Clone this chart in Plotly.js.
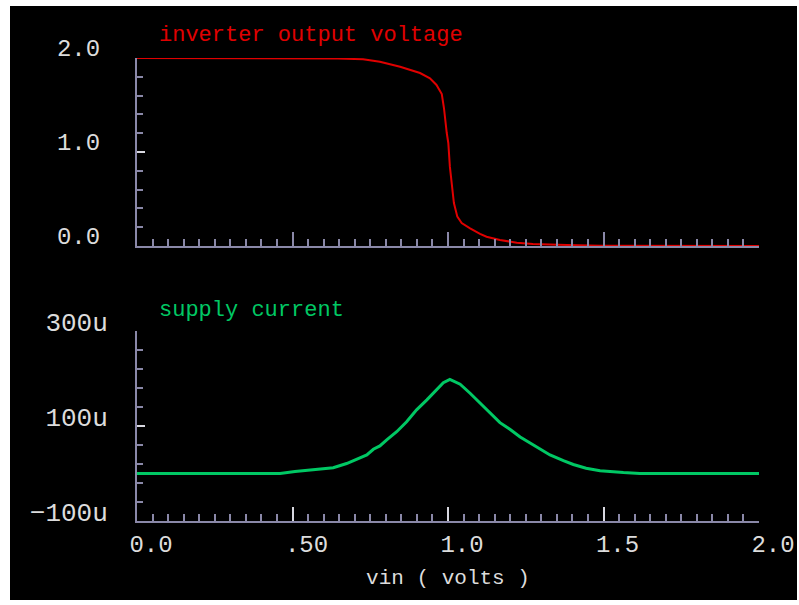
<!DOCTYPE html>
<html>
<head>
<meta charset="utf-8">
<script src="https://cdn.plot.ly/plotly-3.0.1.min.js"></script>
<style>
  html, body { margin: 0; padding: 0; background: #fff; }
  #chart { width: 799px; height: 605px; }
</style>
</head>
<body>
<div id="chart"></div>
<script>
// Inverter DC sweep: output voltage and supply current vs input voltage
const vinOut = [0, 0.646, 0.727, 0.781, 0.846, 0.878, 0.910, 0.942, 0.963, 0.980, 0.987, 0.996, 1.001,
  1.006, 1.012, 1.019, 1.030, 1.044, 1.071, 1.103, 1.124, 1.167, 1.221, 1.273, 1.382, 1.489, 2.0];
const vout = [2.0, 1.995, 1.986, 1.96, 1.907, 1.872, 1.84, 1.784, 1.713, 1.617, 1.468, 1.202, 1.096,
  0.844, 0.670, 0.457, 0.312, 0.245, 0.188, 0.128, 0.099, 0.064, 0.035, 0.021, 0.011, 0.003, 0.0];

const vinCur = [0, 0.46, 0.508, 0.588, 0.631, 0.674, 0.717, 0.739, 0.760, 0.781, 0.803, 0.835, 0.867,
  0.899, 0.932, 0.953, 0.985, 1.006, 1.039, 1.071, 1.103, 1.135, 1.167, 1.199, 1.232, 1.264, 1.296,
  1.328, 1.371, 1.403, 1.444, 1.489, 1.564, 1.617, 2.0];
// supply current in microamps
const idd = [0, 0, 4, 9.5, 12, 21, 34, 39, 51, 58, 71, 88, 109,
  134, 155, 170, 191, 198, 188, 169, 148, 127, 107, 93, 77, 64, 51,
  39, 27, 19, 11, 6, 2, 0, 0];

const xTickVals = [0, 0.5, 1.0, 1.5, 2.0];
const xTickText = ["0.0", ".50", "1.0", "1.5", "2.0"];
const voutTickVals = [0, 1, 2];
const voutTickText = ["0.0", "1.0", "2.0"];
const iddTickVals = [-100, 100, 300];
const iddTickText = ["\u2212100u", "100u", "300u"];

const MONO = "'Liberation Mono', 'DejaVu Sans Mono', monospace";
const AXIS = "#8a88a8";
const MAJOR = "#d8d8e0";
const LABEL = "#dcdcdc";

const W = 799, H = 605;
const xDom = [137 / W, 759 / W];
const yTop = [(H - 246) / H, (H - 58) / H];
const yBot = [(H - 521) / H, (H - 331) / H];

function xAxis(anchor, labels, majorColor) {
  return {
    domain: xDom, anchor: anchor, range: [0, 2], fixedrange: true,
    showline: true, linecolor: AXIS, linewidth: 2, mirror: false,
    showgrid: false, zeroline: false,
    tickmode: "array", tickvals: xTickVals, ticktext: xTickText,
    ticks: "inside", ticklen: 14, tickwidth: 2, tickcolor: majorColor,
    showticklabels: labels,
    tickfont: { family: MONO, size: 24, color: LABEL },
    ticklabelstandoff: 0, ticklabelshift: 14,
    minor: { tickmode: "linear", tick0: 0, dtick: 0.05, ticks: "inside", ticklen: 7,
             tickwidth: 2, tickcolor: AXIS, showgrid: false }
  };
}

const data = [
  { x: vinOut, y: vout, xaxis: "x", yaxis: "y", type: "scatter", mode: "lines",
    line: { color: "#e00000", width: 2 }, hoverinfo: "skip" },
  { x: vinCur, y: idd, xaxis: "x2", yaxis: "y2", type: "scatter", mode: "lines",
    line: { color: "#00c864", width: 3 }, hoverinfo: "skip" }
];

const layout = {
  width: W, height: H,
  margin: { l: 0, r: 0, t: 0, b: 0 },
  paper_bgcolor: "#ffffff", plot_bgcolor: "#000000",
  showlegend: false,
  xaxis: xAxis("y", false, AXIS),
  xaxis2: Object.assign(xAxis("y2", true, MAJOR), {
    title: { text: "vin ( volts )", font: { family: MONO, size: 21, color: LABEL }, standoff: 12 }
  }),
  yaxis: {
    domain: yTop, anchor: "x", range: [0, 2], fixedrange: true,
    showline: true, linecolor: AXIS, linewidth: 2, showgrid: false, zeroline: false,
    tickmode: "array", tickvals: voutTickVals, ticktext: voutTickText,
    ticks: "inside", ticklen: 8, tickwidth: 2, tickcolor: MAJOR,
    tickfont: { family: MONO, size: 24, color: LABEL },
    ticklabelstandoff: 30, ticklabelshift: -10,
    minor: { tickmode: "linear", tick0: 0, dtick: 0.2, ticks: "inside", ticklen: 6,
             tickwidth: 2, tickcolor: AXIS, showgrid: false }
  },
  yaxis2: {
    domain: yBot, anchor: "x2", range: [-100, 300], fixedrange: true,
    showline: true, linecolor: AXIS, linewidth: 2, showgrid: false, zeroline: false,
    tickmode: "array", tickvals: iddTickVals, ticktext: iddTickText,
    ticks: "inside", ticklen: 8, tickwidth: 2, tickcolor: MAJOR,
    tickfont: { family: MONO, size: 26, color: LABEL },
    ticklabelstandoff: 22, ticklabelshift: -9,
    minor: { tickmode: "linear", tick0: -100, dtick: 40, ticks: "inside", ticklen: 6,
             tickwidth: 2, tickcolor: AXIS, showgrid: false }
  },
  shapes: [
    { type: "rect", xref: "paper", yref: "paper", layer: "below",
      x0: 10 / W, x1: 797 / W, y0: 5 / H, y1: (H - 6) / H,
      fillcolor: "#000000", line: { width: 0 } }
  ],
  annotations: [
    { text: "inverter output voltage", xref: "paper", yref: "paper",
      x: 157 / W, y: (H - 35) / H, xanchor: "left", yanchor: "middle", showarrow: false,
      font: { family: MONO, size: 22, color: "#e00000" } },
    { text: "supply current", xref: "paper", yref: "paper",
      x: 157 / W, y: (H - 310) / H, xanchor: "left", yanchor: "middle", showarrow: false,
      font: { family: MONO, size: 22, color: "#00c864" } }
  ]
};

Plotly.newPlot("chart", data, layout, { staticPlot: true, displayModeBar: false });
</script>
</body>
</html>
